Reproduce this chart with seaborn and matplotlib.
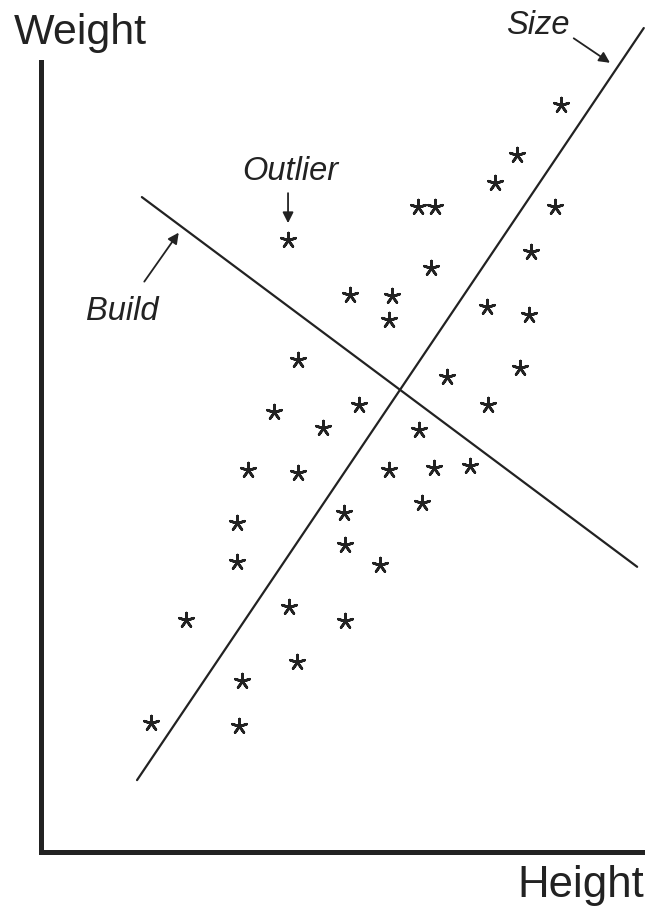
import numpy as np
import pandas as pd
import matplotlib
matplotlib.use('Agg')
import matplotlib.pyplot as plt
import seaborn as sns

# scatter of people (arbitrary units, 0-100 on both axes)
height = [86.1, 78.8, 75.2, 85.1, 62.4, 65.2, 40.9, 64.6, 81.1, 51.2,
          58.1, 57.6, 73.8, 80.8, 42.5, 79.3, 67.2, 38.6, 52.6, 74.0,
          46.7, 62.6, 34.3, 42.5, 57.6, 65.1, 71.0, 63.1, 50.2, 32.5,
          50.3, 32.5, 56.1, 24.0, 41.1, 50.3, 42.4, 33.3, 18.2, 32.8]
weight = [94.6, 88.2, 84.7, 81.6, 81.6, 81.6, 77.5, 73.9, 75.9, 70.5,
          70.4, 67.3, 69.0, 68.0, 62.3, 61.3, 60.1, 55.7, 56.6, 56.6,
          53.7, 53.4, 48.4, 48.0, 48.4, 48.6, 48.9, 44.2, 42.9, 41.6,
          38.9, 36.7, 36.3, 29.4, 31.0, 29.2, 24.1, 21.6, 16.3, 15.9]

# principal axes
size_x = [15.9, 99.8]
size_y = [9.1, 104.3]
build_x = [16.7, 98.7]
build_y = [82.9, 36.1]

# annotations: label, text pos, arrow tail, arrow tip
notes = [
    ('Size', (82.3, 104.6), (88.2, 103.0), (94.2, 99.9)),
    ('Outlier', (41.2, 86.1), (40.9, 83.4), (40.9, 79.6)),
    ('Build', (13.4, 68.4), (17.1, 72.2), (22.8, 78.4)),
]

df = pd.DataFrame({'Height': height, 'Weight': weight})

sns.set_theme(style="white")
plt.rcParams['font.family'] = ['Liberation Sans', 'DejaVu Sans']
ink = '#222222'

fig = plt.figure(figsize=(6.49, 9.09), dpi=100)
ax = fig.add_axes([41/649, 57/909, 601/649, 790/909])

sns.scatterplot(data=df, x='Height', y='Weight', marker=(5, 2, 0), s=115,
                color=ink, linewidth=1.9, edgecolor=ink, ax=ax, clip_on=False)

sns.lineplot(x=size_x, y=size_y, sort=False, color=ink, lw=1.6, ax=ax, clip_on=False)
sns.lineplot(x=build_x, y=build_y, sort=False, color=ink, lw=1.6, ax=ax, clip_on=False)

ax.set_xlim(0, 100 * 601 / 604)
ax.set_ylim(0, 100)
ax.set_xticks([])
ax.set_yticks([])
ax.set_xlabel('')
ax.set_ylabel('')
sns.despine(ax=ax)
for s in ['left', 'bottom']:
    ax.spines[s].set_linewidth(3.6)
    ax.spines[s].set_color(ink)

arrow = dict(arrowstyle='-|>', color=ink, lw=1.3, mutation_scale=16, shrinkA=0, shrinkB=0)
for label, txt, tail, tip in notes:
    ax.text(txt[0], txt[1], label, ha='center', va='center', fontsize=23.5,
            style='italic', color=ink, clip_on=False)
    ax.annotate('', xy=tip, xytext=tail, annotation_clip=False, arrowprops=arrow)

fig.text(80/649, 1 - 33/909, 'Weight', ha='center', va='center', fontsize=31, color=ink)
fig.text(581/649, 1 - 885/909, 'Height', ha='center', va='center', fontsize=31.5, color=ink)

fig.savefig('out.png', dpi=100)
